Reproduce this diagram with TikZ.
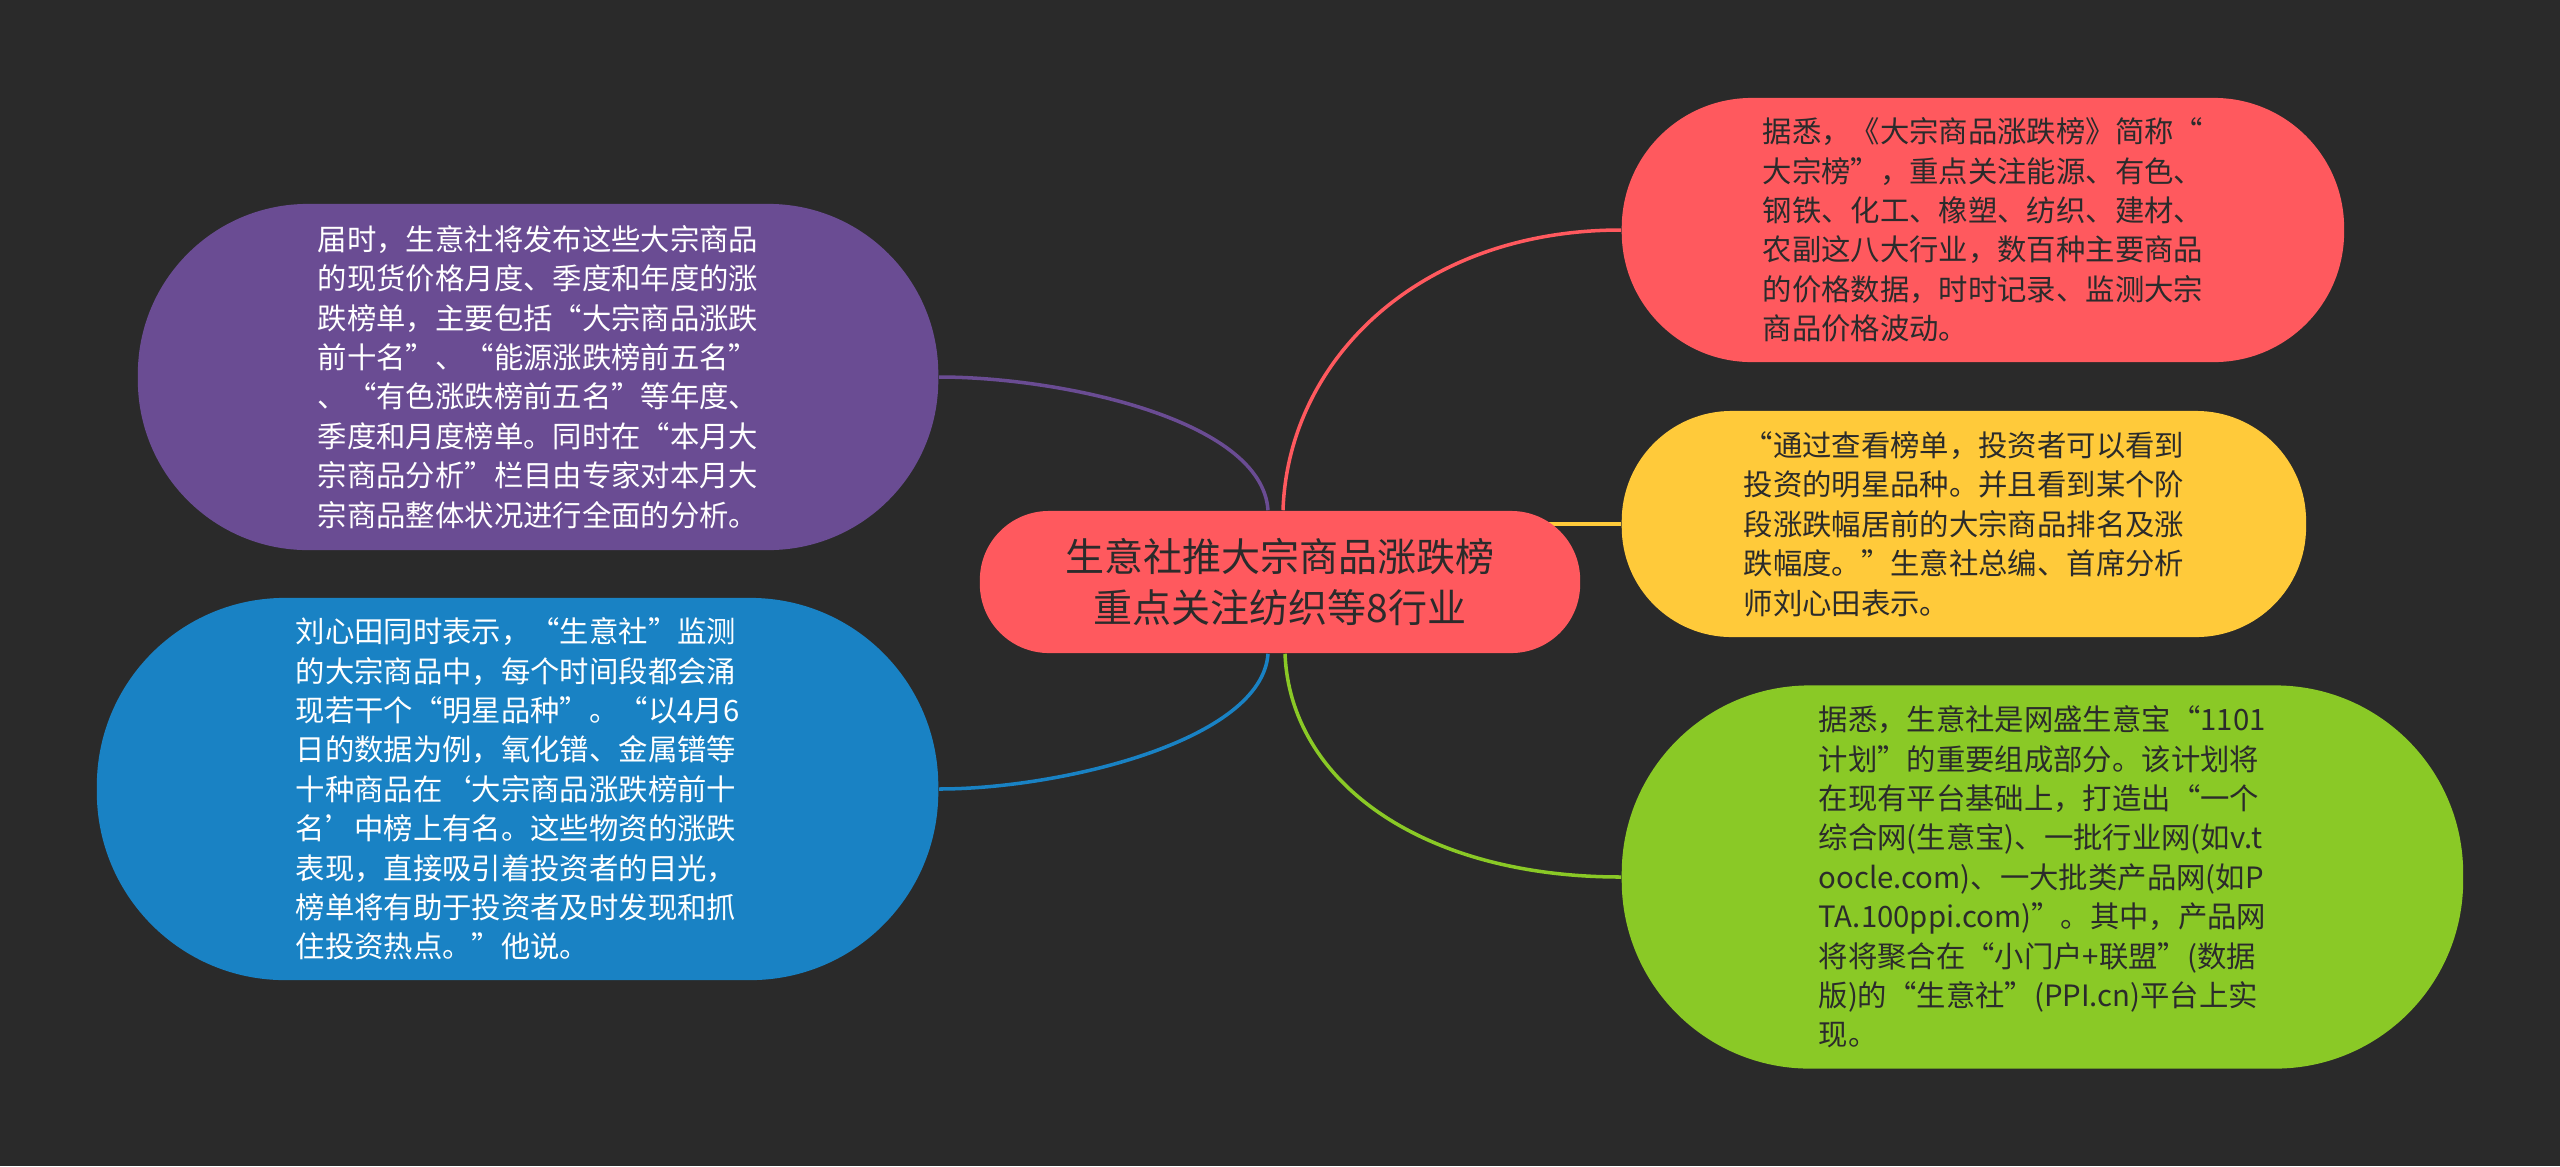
\documentclass[tikz,border=0pt]{standalone}
\usepackage{fontspec}
\setmainfont{Noto Sans CJK SC}
\usepackage{tikz}
\usetikzlibrary{backgrounds}

\definecolor{bgdark}{HTML}{2A2A2A}
\definecolor{mmred}{HTML}{FF595E}
\definecolor{mmyellow}{HTML}{FFCA3A}
\definecolor{mmgreen}{HTML}{8AC926}
\definecolor{mmblue}{HTML}{1982C4}
\definecolor{mmpurple}{HTML}{6A4C93}
\definecolor{inkdark}{HTML}{2B2B2B}

\begin{document}
\begin{tikzpicture}[
        x=0.01cm, y=-0.01cm,
        bubble/.style={rectangle, inner sep=0pt, align=left, font=\fontsize{8.35pt}{11.2pt}\selectfont},
        topic/.style={rectangle, fill=mmred, text=inkdark, inner sep=0pt, align=center, minimum width=6cm, minimum height=1.42cm, rounded corners=0.69cm, font=\fontsize{11.1pt}{14.4pt}\selectfont},
        link/.style={line width=1pt}
    ]
        \useasboundingbox (0,0) rectangle (2560,1166);

        \node[topic] (hub) at (1280,582) {生意社推大宗商品涨跌榜\\重点关注纺织等8行业};

        % left side
        \node[bubble, fill=mmpurple, text=white, anchor=east, minimum width=8cm, minimum height=3.46cm, rounded corners=1.7cm] (timing) at (939,377) {届时，生意社将发布这些大宗商品\\的现货价格月度、季度和年度的涨\\跌榜单，主要包括“大宗商品涨跌\\前十名”、“能源涨跌榜前五名”\\、“有色涨跌榜前五名”等年度、\\季度和月度榜单。同时在“本月大\\宗商品分析”栏目由专家对本月大\\宗商品整体状况进行全面的分析。};
        \node[bubble, fill=mmblue, text=white, anchor=east, minimum width=8.41cm, minimum height=3.82cm, rounded corners=1.88cm] (liu) at (939,789) {刘心田同时表示，“生意社”监测\\的大宗商品中，每个时间段都会涌\\现若干个“明星品种”。“以4月6\\日的数据为例，氧化镨、金属镨等\\十种商品在‘大宗商品涨跌榜前十\\名’中榜上有名。这些物资的涨跌\\表现，直接吸引着投资者的目光，\\榜单将有助于投资者及时发现和抓\\住投资热点。”他说。};

        % right side
        \node[bubble, fill=mmred, text=inkdark, anchor=west, minimum width=7.22cm, minimum height=2.64cm, rounded corners=1.3cm] (intro) at (1621,230) {据悉，《大宗商品涨跌榜》简称“\\大宗榜”，重点关注能源、有色、\\钢铁、化工、橡塑、纺织、建材、\\农副这八大行业，数百种主要商品\\的价格数据，时时记录、监测大宗\\商品价格波动。};
        \node[bubble, fill=mmyellow, text=inkdark, anchor=west, minimum width=6.84cm, minimum height=2.26cm, rounded corners=1.1cm] (quote) at (1621,524) {“通过查看榜单，投资者可以看到\\投资的明星品种。并且看到某个阶\\段涨跌幅居前的大宗商品排名及涨\\跌幅度。”生意社总编、首席分析\\师刘心田表示。};
        \node[bubble, fill=mmgreen, text=inkdark, anchor=west, minimum width=8.41cm, minimum height=3.83cm, rounded corners=1.88cm] (plan) at (1621,877) {据悉，生意社是网盛生意宝“1101\\计划”的重要组成部分。该计划将\\在现有平台基础上，打造出“一个\\综合网(生意宝)、一批行业网(如v.t\\oocle.com)、一大批类产品网(如P\\TA.100ppi.com)”。其中，产品网\\将将聚合在“小门户+联盟”(数据\\版)的“生意社”(PPI.cn)平台上实\\现。};

        \begin{pgfonlayer}{background}
            \fill[bgdark] (0,0) rectangle (2560,1166);
            \draw[link, mmpurple] ([xshift=-0.12cm]hub.north) .. controls +(-6,-91) and +(121,0) .. (timing.east);
            \draw[link, mmblue] ([xshift=-0.12cm]hub.south) .. controls +(-6,87) and +(121,0) .. (liu.east);
            \draw[link, mmred] ([xshift=0.03cm]hub.north) .. controls +(5,-151) and +(-201,0) .. (intro.west);
            \draw[link, mmyellow] (hub.center |- quote.west) -- (quote.west);
            \draw[link, mmgreen] ([xshift=0.05cm]hub.south) .. controls +(5,127) and +(-201,0) .. (plan.west);
        \end{pgfonlayer}
    \end{tikzpicture}
\end{document}
